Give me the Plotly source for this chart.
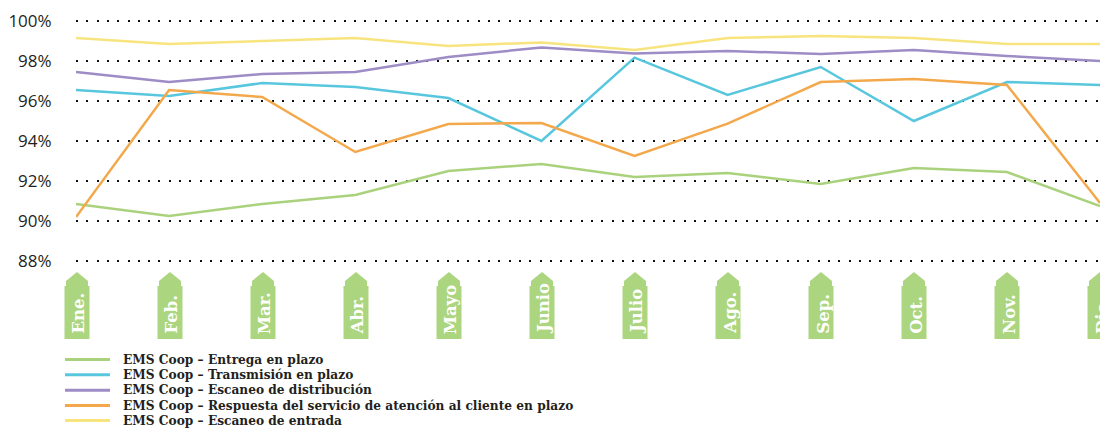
import plotly.graph_objects as go

months = ["Ene.", "Feb.", "Mar.", "Abr.", "Mayo", "Junio", "Julio", "Ago.", "Sep.", "Oct.", "Nov.", "Dic."]

entrega = [90.85, 90.25, 90.85, 91.3, 92.5, 92.85, 92.2, 92.4, 91.85, 92.65, 92.45, 90.75]
transmision = [96.55, 96.25, 96.9, 96.7, 96.15, 94.0, 98.17, 96.3, 97.7, 95.0, 96.95, 96.8]
distribucion = [97.45, 96.95, 97.35, 97.45, 98.2, 98.68, 98.38, 98.5, 98.35, 98.55, 98.25, 98.0]
respuesta = [90.2, 96.55, 96.2, 93.45, 94.85, 94.9, 93.25, 94.87, 96.95, 97.1, 96.8, 90.9]
entrada = [99.15, 98.85, 99.0, 99.15, 98.75, 98.93, 98.55, 99.15, 99.25, 99.15, 98.85, 98.85]

series_names = [
    "EMS Coop – Entrega en plazo",
    "EMS Coop – Transmisión en plazo",
    "EMS Coop – Escaneo de distribución",
    "EMS Coop – Respuesta del servicio de atención al cliente en plazo",
    "EMS Coop – Escaneo de entrada",
]
series_values = [entrega, transmision, distribucion, respuesta, entrada]
colors = ["#aad27d", "#58c7dd", "#9d8cc5", "#f3a84b", "#f8e47f"]

y_ticks = [88, 90, 92, 94, 96, 98, 100]
y_labels = [f"{v}%" for v in y_ticks]

# page has an 8px body margin; figure coords = page coords - 8
OFF = 8
W, H = 1100, 420
PL, PR, PT, PB = 76, 1100, 17, 265  # plot area in page pixels
ML = PL - OFF
MT = PT - OFF
MR = (W + OFF) - PR
MB = (H + OFF) - PB
PW = PR - PL
PH = PB - PT


def px2x(p):
    return (p - PL) / PW


def py2y(p):
    return (PB - p) / PH


fig = go.Figure()
for name, vals, col in zip(series_names, series_values, colors):
    fig.add_trace(go.Scatter(
        x=months, y=vals, mode="lines", name=name,
        line=dict(color=col, width=2.5), showlegend=False,
        hoverinfo="skip"
    ))

shapes = []
annotations = []
serif = "DejaVu Serif"
tab_green = "#acd57f"
n = len(months)
for i, m in enumerate(months):
    cx = PL + 1 + i * (PW - 1) / (n - 1)
    pts = [(cx, 272), (cx + 11, 281), (cx + 11, 286), (cx + 12.5, 286), (cx + 12.5, 339),
           (cx - 12.5, 339), (cx - 12.5, 286), (cx - 11, 286), (cx - 11, 281)]
    path = "M " + " L ".join(f"{px2x(a):.5f},{py2y(b):.5f}" for a, b in pts) + " Z"
    shapes.append(dict(type="path", xref="paper", yref="paper", path=path,
                       fillcolor=tab_green, line=dict(width=0), layer="above"))
    annotations.append(dict(
        x=m, xref="x", y=py2y(336), yref="paper", text=f"<b>{m}</b>",
        textangle=-90, showarrow=False, xanchor="center", yanchor="bottom",
        xshift=2, font=dict(family=serif, size=16.5, color="white")
    ))

# legend (manual)
row_y = [359.5, 374.8, 390.3, 405.5, 420.5]
for name, col, ry in zip(series_names, colors, row_y):
    shapes.append(dict(type="line", xref="paper", yref="paper",
                       x0=px2x(65), x1=px2x(110), y0=py2y(ry), y1=py2y(ry),
                       line=dict(color=col, width=3)))
    annotations.append(dict(
        x=px2x(121), xref="paper", y=py2y(ry), yref="paper", text=f"<b>{name}</b>",
        showarrow=False, xanchor="left", yanchor="middle",
        font=dict(family=serif, size=12.2, color="#231f20")
    ))

fig.update_layout(
    width=W, height=H,
    margin=dict(l=ML, r=MR, t=MT, b=MB, autoexpand=False),
    paper_bgcolor="white", plot_bgcolor="white",
    shapes=shapes, annotations=annotations,
    showlegend=False,
    xaxis=dict(range=[0, n - 1], showticklabels=False, showgrid=False,
               zeroline=False, showline=False, ticks="", automargin=False),
    yaxis=dict(range=[87.8, 100.2], tickvals=y_ticks, ticktext=y_labels,
               showgrid=True, gridcolor="#111111", gridwidth=2.2, griddash="2px,8.3px",
               zeroline=False, showline=False, ticks="outside", ticklen=20,
               tickcolor="rgba(0,0,0,0)", automargin=False,
               tickfont=dict(family="Open Sans", size=17, color="#231f20")),
)

fig.write_html("out.html")
